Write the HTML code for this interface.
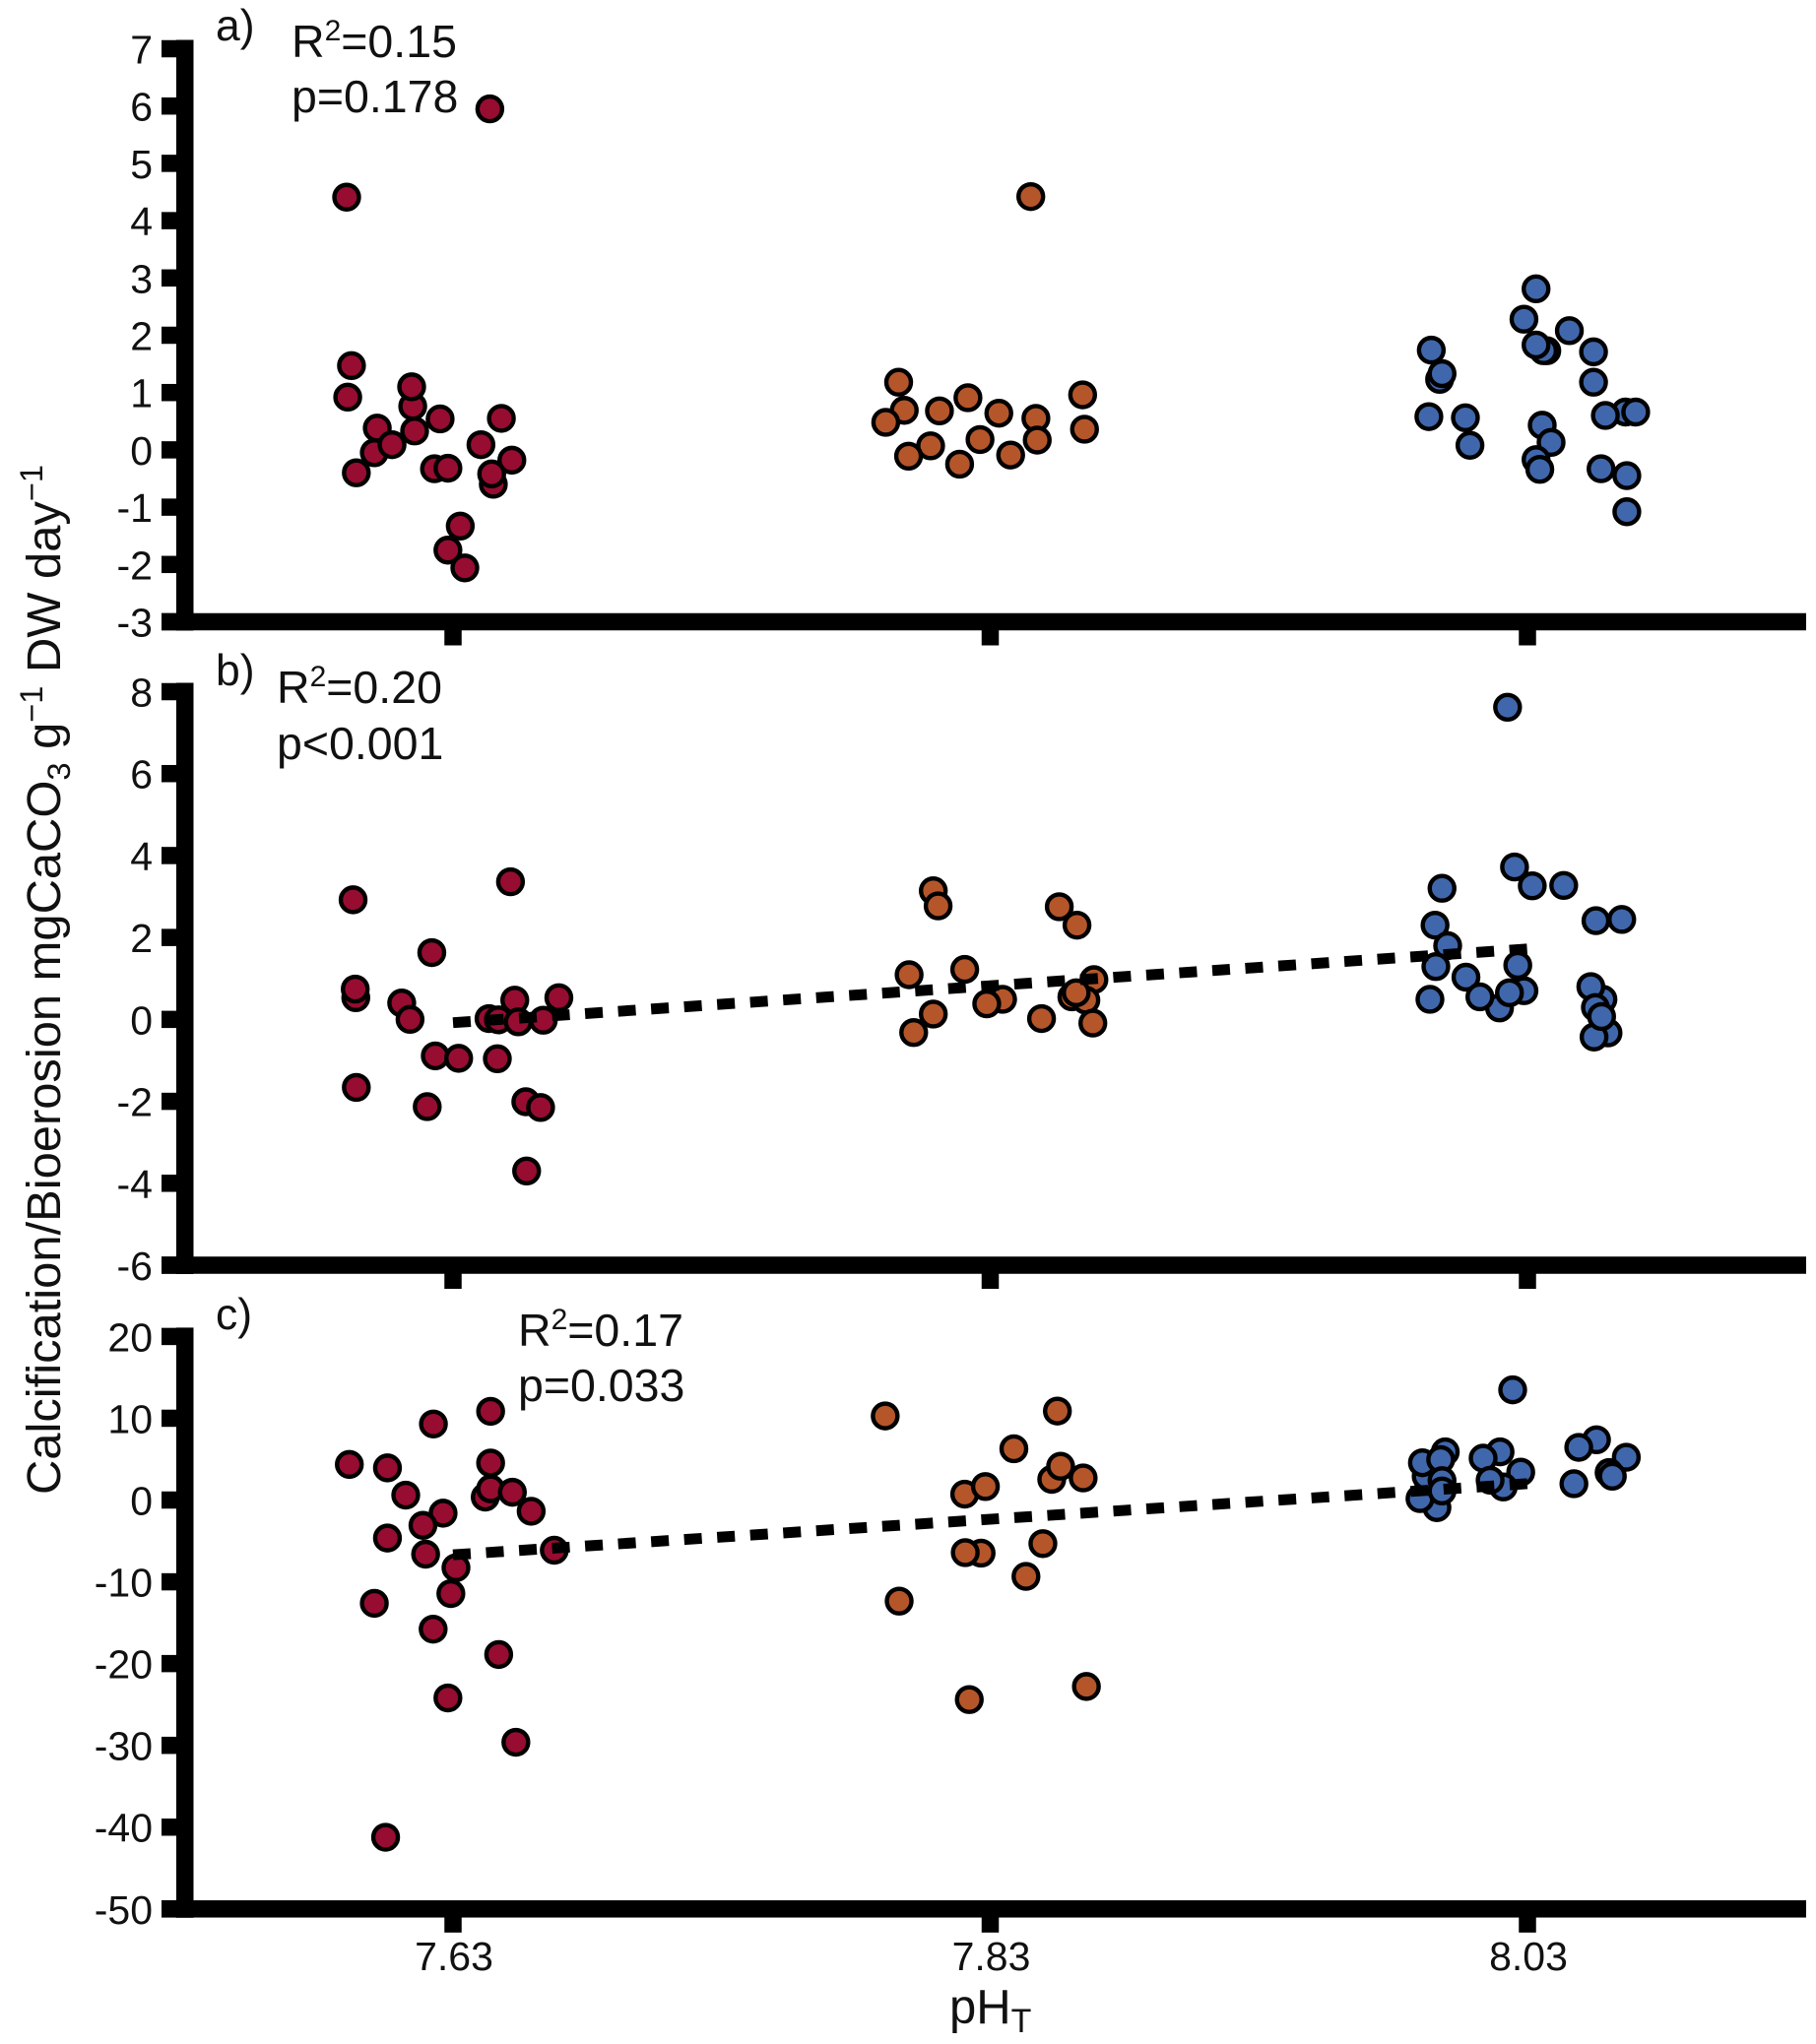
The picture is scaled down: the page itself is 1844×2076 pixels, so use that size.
<!DOCTYPE html>
<html lang="en">
<head>
<meta charset="utf-8">
<title>Calcification and bioerosion versus pH</title>
<style>
html,body{margin:0;padding:0;background:#fff;}
svg{display:block;}
text{font-family:"Liberation Sans",sans-serif;fill:#111;}
</style>
</head>
<body>
<svg id="chart" xmlns="http://www.w3.org/2000/svg" width="1844" height="2076" viewBox="0 0 1844 2076">
  <rect x="0" y="0" width="1844" height="2076" fill="#fff"/>
  <g id="plots"></g>

  <text x="219" y="41" font-size="44.5">a)</text>
  <text x="296" y="58" font-size="46.5">R<tspan font-size="30" dy="-17">2</tspan><tspan dy="17">=0.15</tspan></text>
  <text x="296" y="114" font-size="46.5">p=0.178</text>

  <text x="219" y="696" font-size="44.5">b)</text>
  <text x="281" y="714" font-size="46.5">R<tspan font-size="30" dy="-17">2</tspan><tspan dy="17">=0.20</tspan></text>
  <text x="281" y="771" font-size="46.5">p&lt;0.001</text>

  <text x="219" y="1350" font-size="44.5">c)</text>
  <text x="526" y="1367" font-size="46.5">R<tspan font-size="30" dy="-17">2</tspan><tspan dy="17">=0.17</tspan></text>
  <text x="526" y="1423" font-size="46.5">p=0.033</text>

  <text transform="translate(61,1518) rotate(-90)" font-size="48" textLength="1046" lengthAdjust="spacingAndGlyphs">Calcification/Bioerosion mgCaCO<tspan font-size="32" dy="10">3</tspan><tspan dy="-10"> g</tspan><tspan font-size="32" dy="-18">−1</tspan><tspan dy="18"> DW day</tspan><tspan font-size="32" dy="-18">−1</tspan></text>
  <text x="964" y="2055" font-size="49">pH<tspan font-size="34" dy="9">T</tspan></text>
</svg>

<script>
// ---- shared axis data ----
const phTicks = [7.63, 7.83, 8.03];
const phTickLabels = ["7.63", "7.83", "8.03"];

const panelATicks = [7, 6, 5, 4, 3, 2, 1, 0, -1, -2, -3];
const panelBTicks = [8, 6, 4, 2, 0, -2, -4, -6];
const panelCTicks = [20, 10, 0, -10, -20, -30, -40, -50];

// ---- panel a ----
const panelARedPh = [7.6437,7.5904,7.5922,7.5908,7.6150,7.6146,7.6252,7.6480,7.6018,7.6157,7.6007,7.6073,7.6404,7.5940,7.6231,7.6281,7.6519,7.6450,7.6444,7.6327,7.6281,7.6344];
const panelARedRate = [5.95,4.41,1.47,0.92,0.76,1.10,0.54,0.55,0.38,0.33,-0.05,0.09,0.09,-0.40,-0.33,-0.32,-0.18,-0.60,-0.42,-1.33,-1.75,-2.06];
const panelAOrangePh = [7.8451,7.7980,7.7959,7.7911,7.8111,7.8217,7.8332,7.8470,7.8644,7.8651,7.8475,7.8262,7.8078,7.7996,7.8186,7.8376];
const panelAOrangeRate = [4.42,0.69,1.18,0.48,0.68,0.91,0.64,0.55,0.96,0.36,0.17,0.18,0.07,-0.11,-0.25,-0.09];
const panelABluePh = [8.0332,8.0287,8.0456,7.9942,8.0546,8.0372,8.0360,8.0332,7.9973,7.9982,8.0546,8.0665,8.0703,8.0590,7.9933,8.0069,8.0355,8.0388,8.0086,8.0332,8.0346,8.0574,8.0670,8.0670];
const panelABlueRate = [2.81,2.28,2.08,1.74,1.71,1.73,1.73,1.83,1.23,1.33,1.18,0.66,0.66,0.60,0.58,0.56,0.43,0.13,0.08,-0.17,-0.34,-0.33,-0.45,-1.08];

// ---- panel b ----
const panelBRedPh = [7.5928,7.5938,7.5936,7.6221,7.6514,7.6109,7.6140,7.6234,7.6321,7.6465,7.5940,7.6204,7.6571,7.6626,7.6574,7.6530,7.6694,7.6434,7.6469,7.6543,7.6636];
const panelBRedRate = [2.92,0.53,0.74,1.63,3.36,0.40,0,-0.89,-0.95,-0.96,-1.66,-2.13,-2.01,-2.15,-3.70,0.47,0.53,0.02,-0.01,-0.06,-0.02];
const panelBOrangePh = [7.8088,7.8106,7.8557,7.8623,7.7998,7.8205,7.8686,7.8346,7.8287,7.8604,7.8656,7.8620,7.8088,7.8491,7.8682,7.8015];
const panelBOrangeRate = [3.14,2.77,2.75,2.30,1.09,1.22,0.97,0.49,0.38,0.55,0.47,0.65,0.13,0.02,-0.09,-0.32];
const panelBBluePh = [8.0226,8.0252,8.0318,8.0435,7.9982,7.9956,8.0555,8.0651,8.0003,7.9959,8.0264,8.0071,8.0287,8.0196,8.0123,8.0233,7.9937,8.0600,8.0581,8.0548,8.0536,8.0553,8.0576];
const panelBBlueRate = [7.62,3.72,3.26,3.27,3.20,2.30,2.41,2.44,1.80,1.29,1.32,1.03,0.70,0.28,0.55,0.65,0.49,-0.33,0.49,-0.43,0.80,0.29,0.07];
const panelBFitPh = [7.63, 8.03];
const panelBFitRate = [-0.08, 1.72];

// ---- panel c ----
const panelCRedPh = [7.6440,7.6227,7.5914,7.6056,7.6440,7.6420,7.6440,7.6521,7.6124,7.6591,7.6263,7.6188,7.6056,7.6198,7.6677,7.6311,7.6292,7.6007,7.6226,7.6470,7.6281,7.6534,7.6049];
const panelCRedRate = [10.85,9.30,4.35,3.93,4.53,0.36,1.37,0.95,0.60,-1.37,-1.61,-3.10,-4.65,-6.62,-6.14,-8.28,-11.44,-12.63,-15.79,-18.89,-24.2,-29.62,-41.24];
const panelCOrangePh = [7.7909,7.8550,7.8388,7.8529,7.8562,7.8646,7.8205,7.8282,7.8496,7.8266,7.8207,7.8433,7.7961,7.8222,7.8658];
const panelCOrangeRate = [10.28,10.88,6.27,2.53,4.13,2.70,0.72,1.65,-5.33,-6.49,-6.43,-9.34,-12.36,-24.4,-22.8];
const panelCBluePh = [8.0245,8.0557,8.0491,8.0668,8.0604,8.0616,8.0473,7.9963,7.9900,7.9923,7.9994,7.9909,7.9977,7.9982,7.9982,8.0198,8.0135,8.0275,8.0210,8.0161];
const panelCBlueRate = [13.47,7.37,6.44,5.23,3.36,2.91,1.99,-0.93,0.17,2.91,5.89,4.56,4.95,2.37,1.11,5.89,5.12,3.41,1.60,2.42];
const panelCFitPh = [7.63, 8.03];
const panelCFitRate = [-6.7, 2.0];

// ---- drawing ----
const SVG_NS = "http://www.w3.org/2000/svg";
const plots = document.getElementById("plots");
const RED = "#970c31";
const ORANGE = "#b4562a";
const BLUE = "#4067ab";

const xScale = function (ph) { return 460 + (ph - 7.63) * 2727.5; };
function linearY(v0, y0, v1, y1) {
  return function (v) { return y0 + (v - v0) * (y1 - y0) / (v1 - v0); };
}

function makeEl(tag, parent) {
  const el = document.createElementNS(SVG_NS, tag);
  parent.appendChild(el);
  return el;
}
function setRect(el, x, y, w, h) {
  el.setAttribute("x", x);
  el.setAttribute("y", y);
  el.setAttribute("width", w);
  el.setAttribute("height", h);
  el.setAttribute("fill", "#000");
}

function drawAxes(group, panel, yScale, ticks, showXLabels) {
  const minTick = ticks[ticks.length - 1];
  const maxTick = ticks[0];
  const top = yScale(maxTick) - 9;
  const base = yScale(minTick);

  const spine = makeEl("rect", group);
  
  
  setRect(spine, 179, top, 17.5, base + 9 - top);

  const baseline = makeEl("rect", group);
  
  
  setRect(baseline, 164, base - 8.75, 1670, 17.5);

  ticks.forEach(function (t) {
    const mark = makeEl("rect", group);
    
    
    setRect(mark, 164, yScale(t) - 8.75, 16, 17.5);

    const label = makeEl("text", group);
    
    
    label.setAttribute("x", 155);
    label.setAttribute("y", yScale(t) + 15);
    label.setAttribute("text-anchor", "end");
    label.setAttribute("font-size", "41");
    label.textContent = String(t);
  });

  phTicks.forEach(function (ph, i) {
    const mark = makeEl("rect", group);
    
    
    setRect(mark, xScale(ph) - 8.75, base + 8, 17.5, 16);

    if (showXLabels) {
      const label = makeEl("text", group);
      
      
      label.setAttribute("x", xScale(ph) + 1);
      label.setAttribute("y", base + 62);
      label.setAttribute("text-anchor", "middle");
      label.setAttribute("font-size", "41");
      label.textContent = phTickLabels[i];
    }
  });
}

function drawPoints(group, name, phs, rates, yScale, colour) {
  phs.forEach(function (ph, i) {
    const dot = makeEl("circle", group);
    
    
    dot.setAttribute("cx", xScale(ph));
    dot.setAttribute("cy", yScale(rates[i]));
    dot.setAttribute("r", 12.5);
    dot.setAttribute("fill", colour);
    dot.setAttribute("stroke", "#000");
    dot.setAttribute("stroke-width", 4.4);
  });
}

function drawFit(group, name, phs, rates, yScale) {
  const fit = makeEl("line", group);
  
  
  fit.setAttribute("x1", xScale(phs[0]));
  fit.setAttribute("y1", yScale(rates[0]));
  fit.setAttribute("x2", xScale(phs[1]));
  fit.setAttribute("y2", yScale(rates[1]));
  fit.setAttribute("stroke", "#000");
  fit.setAttribute("stroke-width", 11);
  fit.setAttribute("stroke-dasharray", "18 15.6");
}

const yA = linearY(7, 49.5, -3, 631.5);
const yB = linearY(8, 702.5, -6, 1285);
const yC = linearY(20, 1357.4, -50, 1938.8);

const groupA = makeEl("g", plots);


const groupB = makeEl("g", plots);


const groupC = makeEl("g", plots);



drawAxes(groupA, "a", yA, panelATicks, false);
drawPoints(groupA, "panel-a-ph-7-63", panelARedPh, panelARedRate, yA, RED);
drawPoints(groupA, "panel-a-ph-7-83", panelAOrangePh, panelAOrangeRate, yA, ORANGE);
drawPoints(groupA, "panel-a-ph-8-03", panelABluePh, panelABlueRate, yA, BLUE);

drawAxes(groupB, "b", yB, panelBTicks, false);
drawPoints(groupB, "panel-b-ph-7-63", panelBRedPh, panelBRedRate, yB, RED);
drawPoints(groupB, "panel-b-ph-7-83", panelBOrangePh, panelBOrangeRate, yB, ORANGE);
drawPoints(groupB, "panel-b-ph-8-03", panelBBluePh, panelBBlueRate, yB, BLUE);
drawFit(groupB, "panel-b-trend-line", panelBFitPh, panelBFitRate, yB);

drawAxes(groupC, "c", yC, panelCTicks, true);
drawPoints(groupC, "panel-c-ph-7-63", panelCRedPh, panelCRedRate, yC, RED);
drawPoints(groupC, "panel-c-ph-7-83", panelCOrangePh, panelCOrangeRate, yC, ORANGE);
drawPoints(groupC, "panel-c-ph-8-03", panelCBluePh, panelCBlueRate, yC, BLUE);
drawFit(groupC, "panel-c-trend-line", panelCFitPh, panelCFitRate, yC);
</script>
</body>
</html>
